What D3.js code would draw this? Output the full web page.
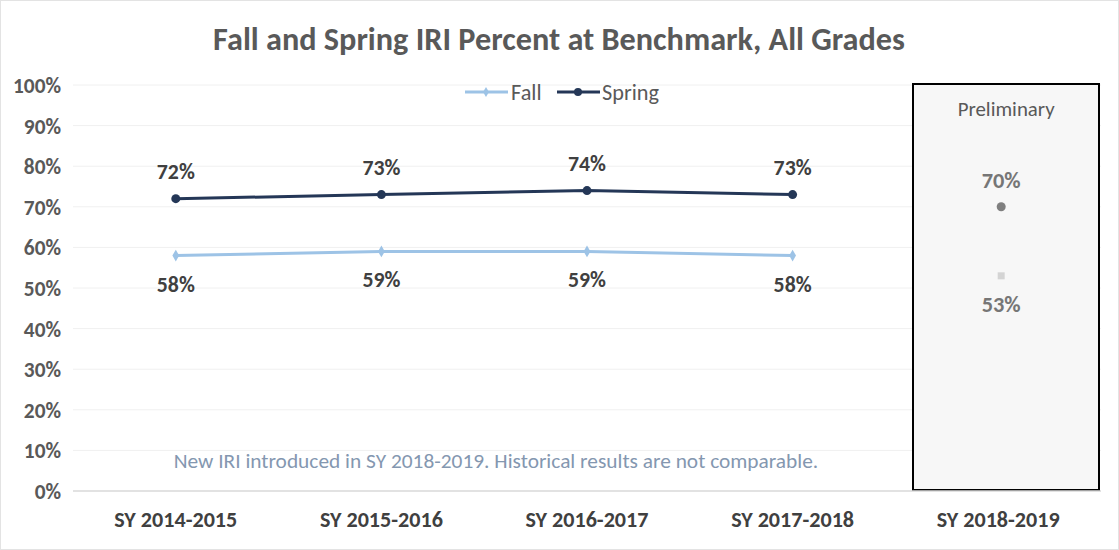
<!DOCTYPE html>
<html><head><meta charset="utf-8">
<script src="https://cdn.jsdelivr.net/npm/d3@7"></script>
<style>body{margin:0;background:#fff;} svg{display:block;font-family:Carlito,Calibri,Lato,"Open Sans",sans-serif;}</style>
</head><body>
<svg id="c" width="1119" height="550"></svg>
<script>
const categories = ["SY 2014-2015","SY 2015-2016","SY 2016-2017","SY 2017-2018","SY 2018-2019"];
const histCategories = ["SY 2014-2015","SY 2015-2016","SY 2016-2017","SY 2017-2018"];
const fallValues = [0.58, 0.59, 0.59, 0.58];
const springValues = [0.72, 0.73, 0.74, 0.73];
const prelimCategory = "SY 2018-2019";
const prelimSpring = 0.70;
const prelimFall = 0.53;
const yTicks = [0,0.1,0.2,0.3,0.4,0.5,0.6,0.7,0.8,0.9,1.0];
const title = "Fall and Spring IRI Percent at Benchmark, All Grades";
const note = "New IRI introduced in SY 2018-2019. Historical results are not comparable.";

const svg = d3.select("#c");
const W = 1119, H = 550;
svg.append("rect").attr("x",0.5).attr("y",0.5).attr("width",W-1).attr("height",H-1).attr("fill","#fff").attr("stroke","#e3e3e3");

const x = d3.scaleBand().domain(categories).range([73, 1101]).padding(0);
const y = d3.scaleLinear().domain([0,1]).range([491, 85]);
const cx = c => x(c) + x.bandwidth()/2;
const pct = d3.format(".0%");

// scale font size of a selection so its first node has the target width
function fit(sel, target){
  const n = sel.node(); const w = n.getComputedTextLength();
  const fs = parseFloat(sel.attr("font-size"));
  sel.attr("font-size", (fs*target/w).toFixed(2));
}

// gridlines
svg.append("g").selectAll("line").data(yTicks.slice(1)).join("line")
  .attr("x1",73).attr("x2",1101).attr("y1",d=>y(d)).attr("y2",d=>y(d))
  .attr("stroke","#f0f0f0").attr("stroke-width",1);

// preliminary box
svg.append("rect").attr("x",913).attr("y",84).attr("width",186).attr("height",406)
  .attr("fill","#f7f7f7").attr("stroke","#000").attr("stroke-width",2);

// baseline
svg.append("line").attr("x1",73).attr("x2",1101).attr("y1",y(0)).attr("y2",y(0))
  .attr("stroke","#d9d9d9").attr("stroke-width",1.5);

// y axis
const yAxis = d3.axisLeft(y).tickValues(yTicks).tickFormat(pct).tickSize(0).tickPadding(0);
const gy = svg.append("g").attr("transform","translate(61,0)").call(yAxis);
gy.select(".domain").remove();
const yt = gy.selectAll("text").attr("font-size",15).attr("font-weight","bold").attr("fill","#595959")
  .attr("font-family","Carlito,Calibri,Lato,sans-serif").attr("dy","0.35em");
{ const last = gy.selectAll("text").filter(d=>d===1); const w = last.node().getComputedTextLength(); yt.attr("font-size",(15*48/w).toFixed(2)); }

// x axis
const xAxis = d3.axisBottom(x).tickSize(0).tickPadding(0);
const gx = svg.append("g").attr("transform","translate(0,519)").call(xAxis);
gx.select(".domain").remove();
const xt = gx.selectAll("text").attr("font-size",15).attr("font-weight","bold").attr("fill","#404040")
  .attr("font-family","Carlito,Calibri,Lato,sans-serif").attr("dy","0.35em");
fit(xt, 123);

// title
const t = svg.append("text").attr("x",559).attr("y",50).attr("text-anchor","middle")
  .attr("font-size",24).attr("font-weight","bold").attr("fill","#595959").text(title);
fit(t, 692);

// legend
const lg = svg.append("g");
lg.append("line").attr("x1",465).attr("x2",508).attr("y1",92).attr("y2",92).attr("stroke","#9dc3e6").attr("stroke-width",3);
lg.append("path").attr("d",d3.symbol(d3.symbolDiamond,30)()).attr("transform","translate(486,92)").attr("fill","#9dc3e6");
const lf = lg.append("text").attr("x",511).attr("y",92).attr("dy","0.35em").attr("font-size",17).attr("fill","#595959").text("Fall");
lg.append("line").attr("x1",557).attr("x2",600).attr("y1",92).attr("y2",92).attr("stroke","#243757").attr("stroke-width",3);
lg.append("circle").attr("cx",578).attr("cy",92).attr("r",4).attr("fill","#243757");
const ls = lg.append("text").attr("x",602).attr("y",92).attr("dy","0.35em").attr("font-size",17).attr("fill","#595959").text("Spring");
fit(ls, 57); lf.attr("font-size", ls.attr("font-size"));

const line = d3.line().x((d,i)=>cx(histCategories[i])).y(d=>y(d));

// fall
svg.append("path").datum(fallValues).attr("d",line).attr("fill","none").attr("stroke","#9dc3e6").attr("stroke-width",3);
svg.append("g").selectAll("path").data(fallValues).join("path")
  .attr("d",d3.symbol(d3.symbolDiamond,40)()).attr("transform",(d,i)=>`translate(${cx(histCategories[i])},${y(d)})`).attr("fill","#9dc3e6");
const fl = svg.append("g").selectAll("text").data(fallValues).join("text")
  .attr("x",(d,i)=>cx(histCategories[i])).attr("y",d=>y(d)+36).attr("text-anchor","middle")
  .attr("font-size",17).attr("font-weight","bold").attr("fill","#404040").text(pct);
fit(fl, 38);

// spring
svg.append("path").datum(springValues).attr("d",line).attr("fill","none").attr("stroke","#243757").attr("stroke-width",3);
svg.append("g").selectAll("circle").data(springValues).join("circle")
  .attr("cx",(d,i)=>cx(histCategories[i])).attr("cy",d=>y(d)).attr("r",4.5).attr("fill","#243757");
const sl = svg.append("g").selectAll("text").data(springValues).join("text")
  .attr("x",(d,i)=>cx(histCategories[i])).attr("y",d=>y(d)-20).attr("text-anchor","middle")
  .attr("font-size",17).attr("font-weight","bold").attr("fill","#404040").text(pct);
fit(sl, 38);

// preliminary
const pc = cx(prelimCategory) + 3;
const pt = svg.append("text").attr("x",pc+5).attr("y",109).attr("dy","0.35em").attr("text-anchor","middle")
  .attr("font-size",17).attr("fill","#595959").text("Preliminary");
fit(pt, 97);
svg.append("circle").attr("cx",pc).attr("cy",y(prelimSpring)).attr("r",4.5).attr("fill","#7f7f7f");
const p1 = svg.append("text").attr("x",pc).attr("y",y(prelimSpring)-19).attr("text-anchor","middle")
  .attr("font-size",17).attr("font-weight","600").attr("fill","#767676").text(pct(prelimSpring));
fit(p1, 39);
svg.append("rect").attr("x",pc-3.5).attr("y",y(prelimFall)-3.5).attr("width",7).attr("height",7).attr("fill","#d4d4d4");
const p2 = svg.append("text").attr("x",pc).attr("y",y(prelimFall)+36).attr("text-anchor","middle")
  .attr("font-size",17).attr("font-weight","600").attr("fill","#767676").text(pct(prelimFall));
p2.attr("font-size", p1.attr("font-size"));

// note
const nt = svg.append("text").attr("x",496).attr("y",468).attr("text-anchor","middle")
  .attr("font-size",16).attr("fill","#8497b0").text(note);
fit(nt, 645);
</script>
</body></html>
